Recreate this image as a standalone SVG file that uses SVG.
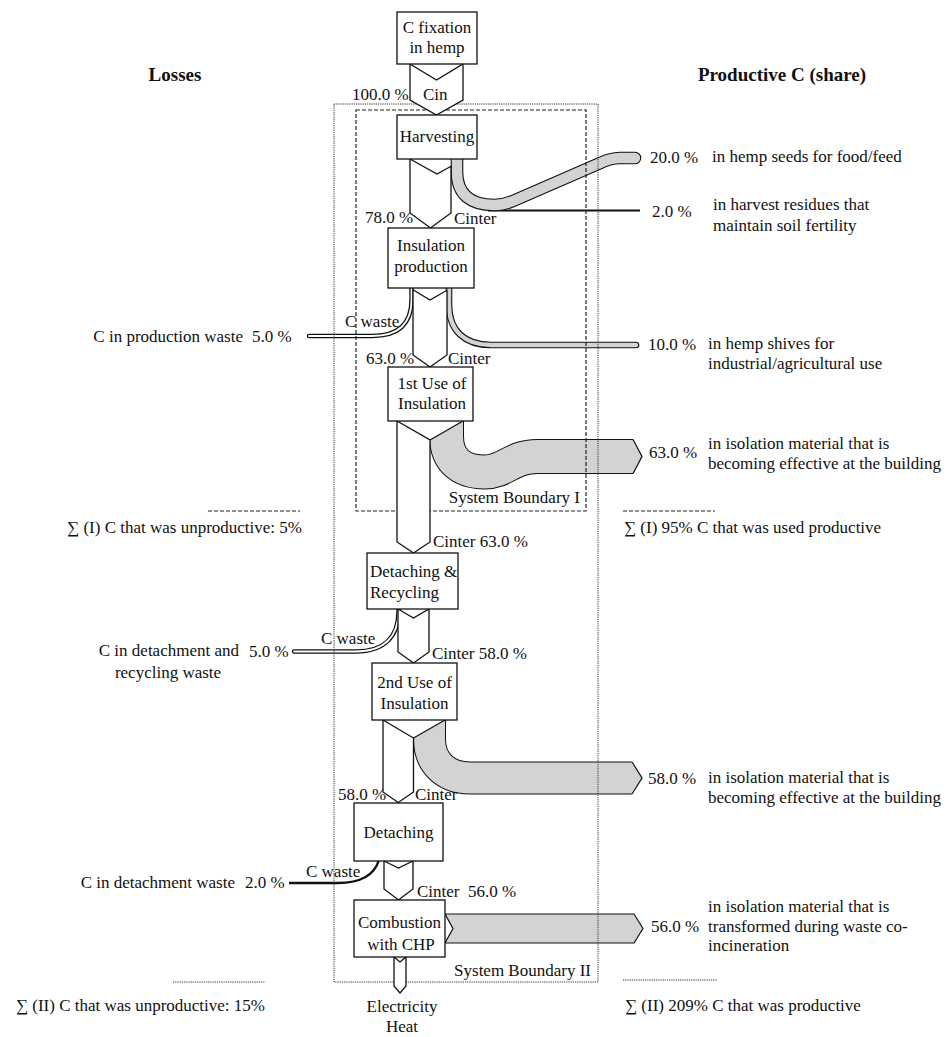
<svg xmlns="http://www.w3.org/2000/svg" width="951" height="1037" viewBox="0 0 951 1037">
<style>
text{font-family:"Liberation Serif","Times New Roman",serif;font-size:17px;fill:#111}
.b{font-weight:bold;font-size:19px}
.m{text-anchor:middle}
.e{text-anchor:end}
.box{fill:#fff;stroke:#111;stroke-width:1.3}
.arr{fill:#fff;stroke:#111;stroke-width:1.3;stroke-linejoin:miter}
.ln{fill:none;stroke:#111;stroke-width:1.3}
.gk{fill:none;stroke:#111;stroke-linejoin:round}
.gg{fill:none;stroke:#d3d3d3;stroke-linejoin:round}
.gw{fill:none;stroke:#fff;stroke-linejoin:round}
.gp{fill:#d3d3d3;stroke:#111;stroke-width:1.2;stroke-linejoin:miter}
.dot{fill:none;stroke:#333;stroke-width:1;stroke-dasharray:1.2 1}
.dash{fill:none;stroke:#222;stroke-width:1.2;stroke-dasharray:4 2}
</style>
<g id="connectors">
  <!-- 2% residues line -->
  <line x1="488" y1="210.5" x2="640" y2="210.5" stroke="#111" stroke-width="2.2"/>
  <!-- seeds 20% -->
  <path class="gk" stroke-width="12.6" stroke-linecap="round" d="M457,159 L457,172 C457,195 471,205 494,205 C502,205 507,203.5 513,201 L598,164 C606,160 612,158 620,158 L635,158"/>
  <path class="gg" stroke-width="10.4" stroke-linecap="round" d="M457,159 L457,172 C457,195 471,205 494,205 C502,205 507,203.5 513,201 L598,164 C606,160 612,158 620,158 L635,158"/>
  <!-- shives 10% -->
  <path class="gk" stroke-width="6.6" stroke-linecap="round" d="M449,286 L449,305 C449,331 465,345 491,345 L636,345"/>
  <path class="gg" stroke-width="4.4" stroke-linecap="round" d="M449,286 L449,305 C449,331 465,345 491,345 L636,345"/>
  <!-- production waste 5% -->
  <path class="gk" stroke-width="4.4" stroke-linecap="round" d="M411.5,286 L411.5,300 C411.5,325 397,336 372,336 L309,336"/>
  <path class="gw" stroke-width="1.8" stroke-linecap="round" d="M411.5,286 L411.5,300 C411.5,325 397,336 372,336 L309,336"/>
  <!-- 63% stream -->
  <path class="gk" stroke-width="35" d="M446.5,421 L446.5,436 C446.5,461 462,472 485,472 C505,472 512,456.5 537,456.5 L633,456.5"/>
  <path class="gg" stroke-width="33" d="M446.5,421 L446.5,436 C446.5,461 462,472 485,472 C505,472 512,456.5 537,456.5 L633,456.5"/>
  <polygon fill="#d3d3d3" points="632,440 642,456.5 632,473"/>
  <polyline class="ln" points="633,439.5 642,456.5 633,473.5"/>
  <polygon fill="#fff" points="428.5,420 465,420 430,440 428.5,440"/>
  <!-- D&R waste 5% -->
  <path class="gk" stroke-width="4.4" stroke-linecap="round" d="M398.5,607 L398.5,611 C398.5,637 384,651.5 356,651.5 L294,651.5"/>
  <path class="gw" stroke-width="1.8" stroke-linecap="round" d="M398.5,607 L398.5,611 C398.5,637 384,651.5 356,651.5 L294,651.5"/>
  <!-- 58% stream -->
  <path class="gk" stroke-width="33" d="M429.5,720 L429.5,739 C429.5,763 446,778 470,778 L632,778"/>
  <path class="gg" stroke-width="31" d="M429.5,720 L429.5,739 C429.5,763 446,778 470,778 L632,778"/>
  <polygon fill="#d3d3d3" points="631,762.5 642,778 631,793.5"/>
  <polyline class="ln" points="632,762 642,778 632,794"/>
  <polygon fill="#fff" points="412,719 447,719 413.5,738 412,738"/>
  <!-- detachment waste 2% -->
  <path fill="none" stroke="#111" stroke-width="2.4" d="M379,860 C374,876 360,883 338,883 L289,883"/>
  <!-- 56% stream -->
  <polygon class="gp" points="445,914 634,914 643,928.5 634,943 445,943 453,928.5"/>
</g>
<g id="boundaries">
  <rect class="dot" x="334" y="104" width="264" height="878"/>
  <rect class="dash" x="356" y="110" width="230" height="401"/>
  <line class="dash" x1="208" y1="511" x2="300" y2="511" stroke-dasharray="3 1.5"/>
  <line class="dash" x1="623" y1="511" x2="715" y2="511" stroke-dasharray="3 1.5"/>
  <line class="dot" x1="173" y1="982" x2="265" y2="982"/>
  <line class="dot" x1="623" y1="980" x2="717" y2="980"/>
</g>
<g id="flows">
  <polygon class="arr" points="410,64 436.5,80 463,64 463,100 436.5,115 410,100"/>
  <polygon class="arr" points="410,159 437,174 451,166.3 451,213 430.5,228 410,213"/>
  <polygon class="arr" points="413,289.8 430,300 447,290.3 447,355 430,367 413,355"/>
  <polygon class="arr" points="397,421 430,440 430,542 413.5,553 397,542"/>
  <line class="ln" x1="430" y1="440" x2="463" y2="421"/>
  <polygon class="arr" points="398,609 413.5,618 429,609 429,652 413.5,663 398,652"/>
  <polygon class="arr" points="383,720 413.5,738 413.5,792 398.25,802.5 383,792"/>
  <line class="ln" x1="413.5" y1="738" x2="445" y2="720"/>
  <polygon class="arr" points="384,861 398.5,868 413,861 413,889 398.5,900 384,889"/>
  <polygon class="arr" points="394,957 400,962 406,957 406,986 400,993 394,986"/>
</g>
<g id="n-fixation"><rect class="box" x="397" y="12" width="80" height="52"/><text class="m" x="437" y="33">C fixation</text><text class="m" x="437" y="53">in hemp</text></g>
<g id="n-harvesting"><rect class="box" x="397" y="115" width="80" height="44"/><text class="m" x="437" y="142">Harvesting</text></g>
<g id="n-insprod"><rect class="box" x="388" y="228" width="86" height="60"/><text class="m" x="431" y="251">Insulation</text><text class="m" x="431" y="272">production</text></g>
<g id="n-use1"><rect class="box" x="388" y="367" width="85" height="54"/><text class="m" x="432" y="389">1st Use of</text><text class="m" x="432" y="409">Insulation</text></g>
<g id="n-detrec"><rect class="box" x="367" y="553" width="91" height="56"/><text x="370" y="577">Detaching &amp;</text><text x="370" y="598">Recycling</text></g>
<g id="n-use2"><rect class="box" x="372" y="663" width="85" height="57"/><text class="m" x="414.5" y="688">2nd Use of</text><text class="m" x="414.5" y="709">Insulation</text></g>
<g id="n-detaching"><rect class="box" x="354" y="803" width="89" height="58"/><text class="m" x="398.5" y="838">Detaching</text></g>
<g id="n-combustion"><rect class="box" x="354" y="900" width="91" height="57"/><text class="m" x="399.5" y="928">Combustion</text><text class="m" x="401" y="950">with CHP</text></g>
<g id="labels">
  <text class="b m" x="175" y="81">Losses</text>
  <text class="b m" x="782" y="81">Productive C (share)</text>
  <text x="352" y="100">100.0 %</text>
  <text x="423" y="100">Cin</text>
  <text x="365" y="223">78.0 %</text>
  <text x="454" y="224">Cinter</text>
  <text x="345" y="327">C waste</text>
  <text x="366" y="364">63.0 %</text>
  <text x="448" y="364">Cinter</text>
  <text class="e" x="243" y="342">C in production waste</text>
  <text x="252" y="342">5.0 %</text>
  <text class="e" x="302" y="533">∑ (I) C that was unproductive: 5%</text>
  <text x="433" y="547">Cinter 63.0 %</text>
  <text x="321" y="644">C waste</text>
  <text class="e" x="239" y="656">C in detachment and</text>
  <text class="m" x="168" y="678">recycling waste</text>
  <text x="249" y="657">5.0 %</text>
  <text x="432" y="659">Cinter 58.0 %</text>
  <text x="338" y="800">58.0 %</text>
  <text x="415" y="800">Cinter</text>
  <text x="306" y="877">C waste</text>
  <text class="e" x="235" y="888">C in detachment waste</text>
  <text x="245" y="888">2.0 %</text>
  <text x="417" y="897">Cinter</text>
  <text x="468" y="897">56.0 %</text>
  <text class="e" x="580" y="503">System Boundary I</text>
  <text class="e" x="591" y="976">System Boundary II</text>
  <text class="m" x="402" y="1012">Electricity</text>
  <text class="m" x="402" y="1032">Heat</text>
  <text class="e" x="265" y="1011">∑ (II) C that was unproductive: 15%</text>
  <text x="650" y="163">20.0 %</text>
  <text x="712" y="162">in hemp seeds for food/feed</text>
  <text x="652" y="217">2.0 %</text>
  <text x="713" y="210">in harvest residues that</text>
  <text x="713" y="231">maintain soil fertility</text>
  <text x="648" y="350">10.0 %</text>
  <text x="708" y="349">in hemp shives for</text>
  <text x="708" y="369">industrial/agricultural use</text>
  <text x="649" y="458">63.0 %</text>
  <text x="708" y="449">in isolation material that is</text>
  <text x="708" y="469">becoming effective at the building</text>
  <text x="624" y="533">∑ (I) 95% C that was used productive</text>
  <text x="648" y="784">58.0 %</text>
  <text x="708" y="783">in isolation material that is</text>
  <text x="708" y="803">becoming effective at the building</text>
  <text x="651" y="932">56.0 %</text>
  <text x="708" y="912">in isolation material that is</text>
  <text x="708" y="932">transformed during waste co-</text>
  <text x="708" y="951">incineration</text>
  <text x="625" y="1011">∑ (II) 209% C that was productive</text>
</g>
</svg>
